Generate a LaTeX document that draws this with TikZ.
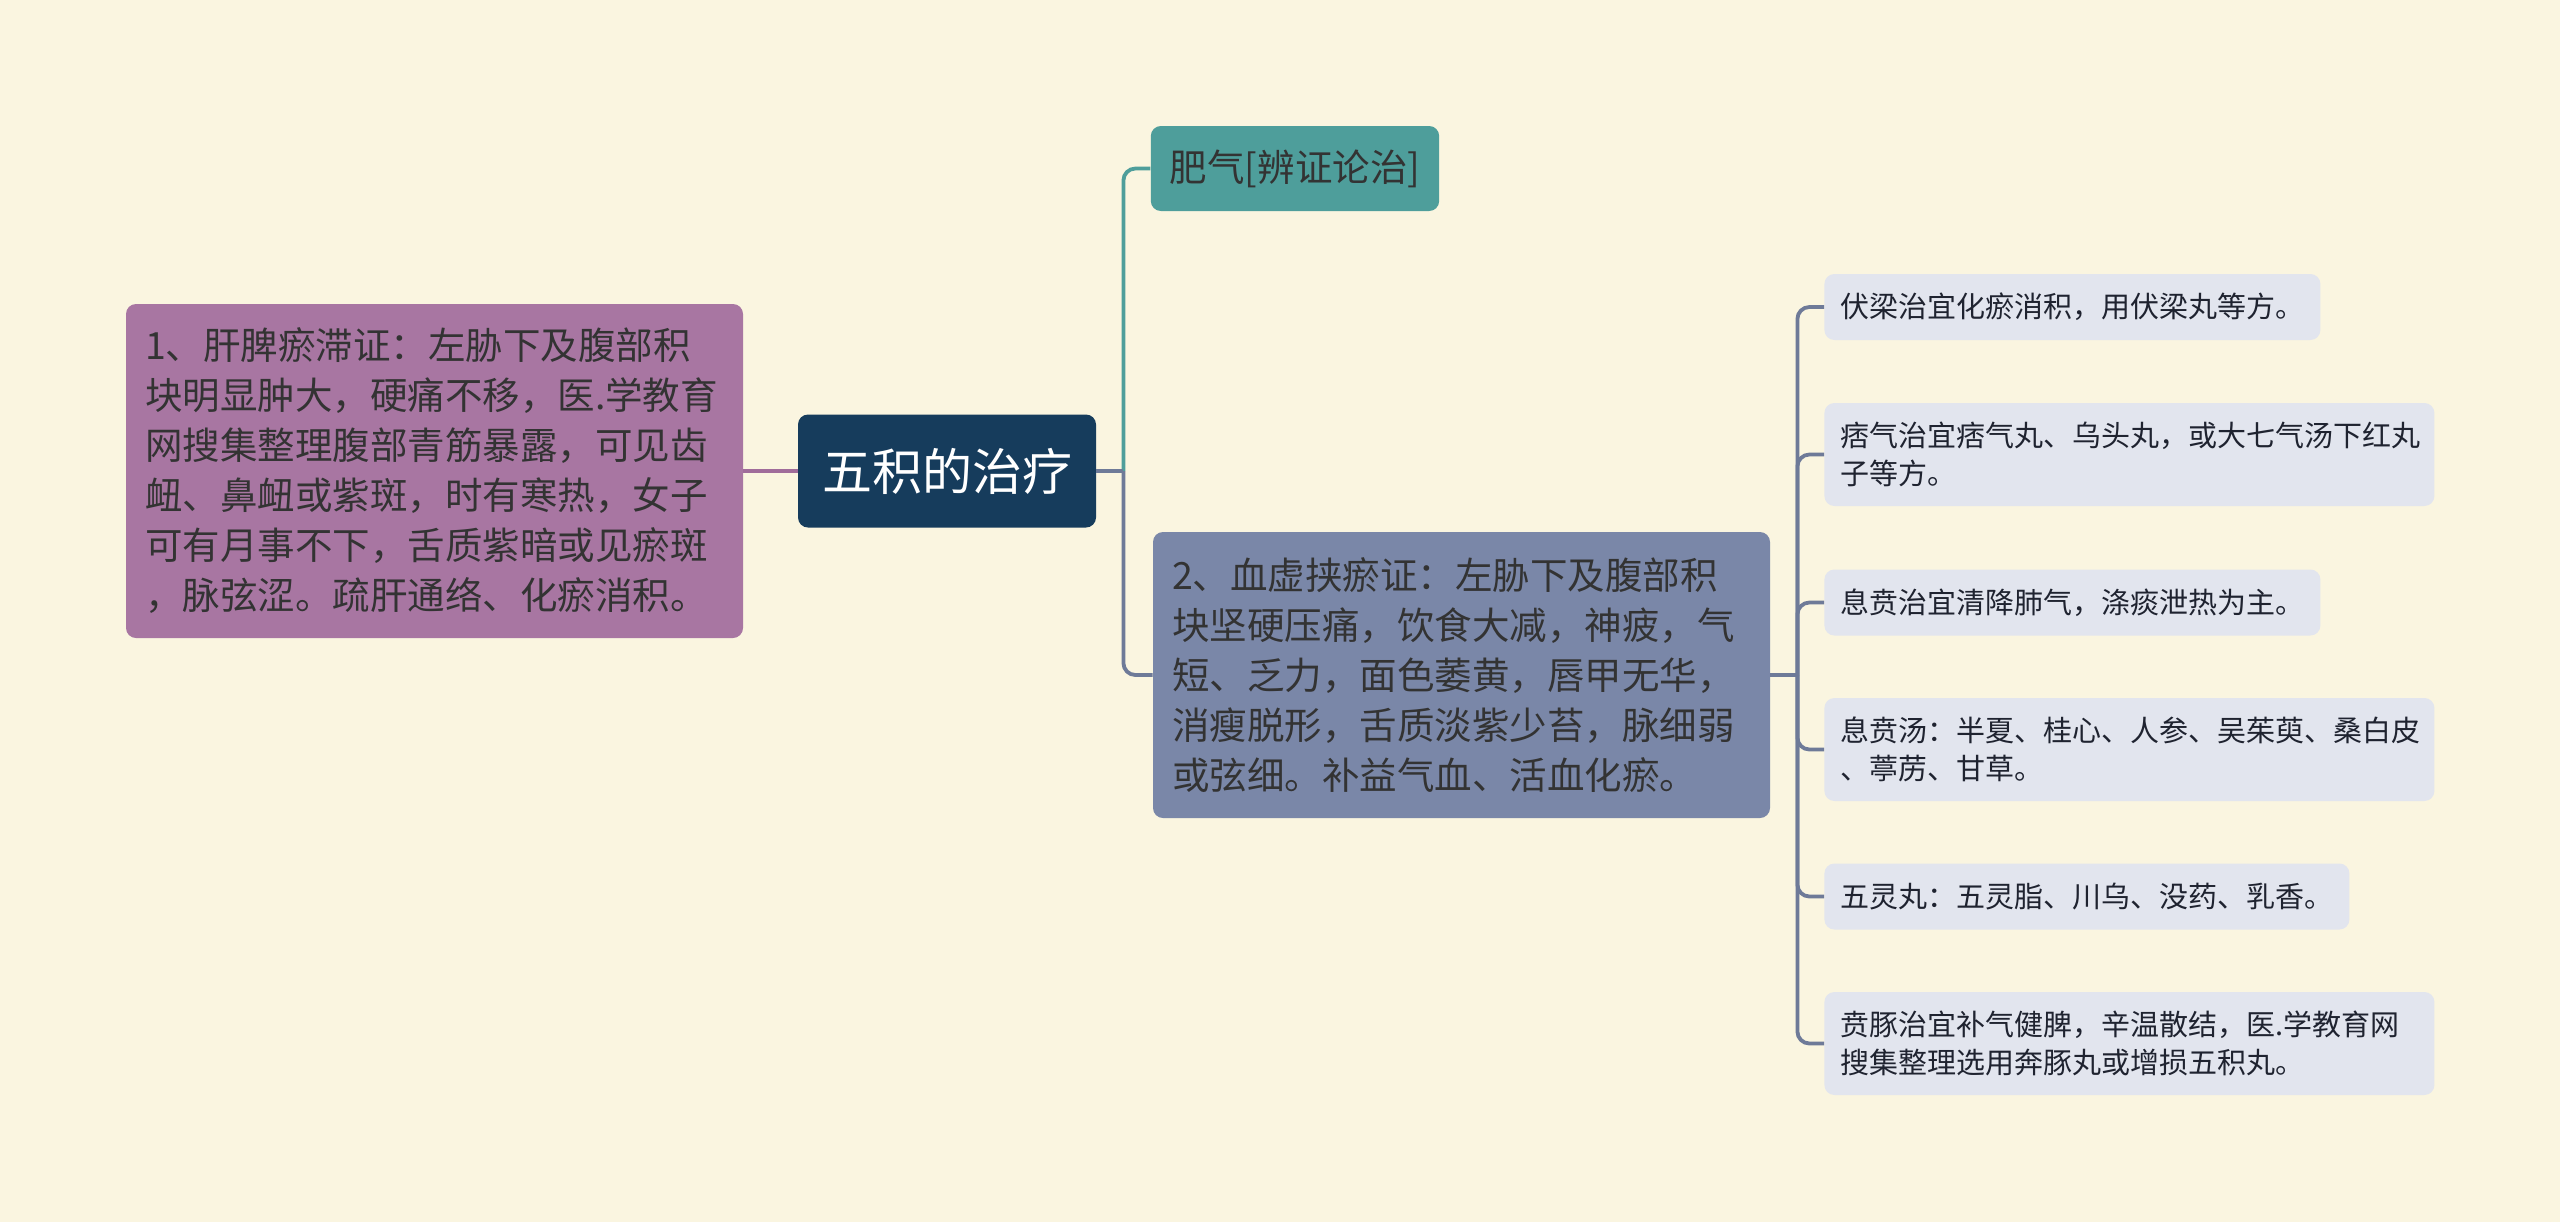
\documentclass[tikz,border=0pt]{standalone}
\usepackage{fontspec}
\newfontfamily\cjk{Noto Sans CJK SC}
\definecolor{bgcream}{HTML}{FAF5E0}
\definecolor{rootblue}{HTML}{163C5C}
\definecolor{mauve}{HTML}{A876A2}
\definecolor{feiteal}{HTML}{4E9E9B}
\definecolor{slate}{HTML}{7A87A8}
\definecolor{leafgray}{HTML}{E2E5EE}
\definecolor{inkgray}{HTML}{333333}
\definecolor{leafink}{HTML}{1F2330}
\definecolor{slatelink}{HTML}{6E7A98}
\definecolor{mauvelink}{HTML}{A06C9A}
\begin{document}
\begin{tikzpicture}[
  x=0.5pt, y=-0.5pt,
  nodebox/.style={
    rounded corners=5pt,
    align=left,
    inner sep=0pt,
    text=inkgray
  },
  rootbox/.style={nodebox, fill=rootblue, text=white, align=center,
    font=\cjk\fontsize{25}{30}\selectfont,
    minimum width=149pt, minimum height=56.5pt},
  mainbox/.style={nodebox, font=\cjk\fontsize{18.75}{25}\selectfont,
    text width=289.5pt, inner xsep=9.5pt},
  leafbox/.style={nodebox, fill=leafgray, text=leafink, anchor=west,
    font=\cjk\fontsize{14.5}{18.75}\selectfont, inner xsep=8pt},
  wideleaf/.style={leafbox, text width=289pt, minimum height=51.5pt},
  branch/.style={line width=1.9pt, rounded corners=6pt}
]
\fill[bgcream] (0,0) rectangle (2560,1222);
\useasboundingbox (0,0) rectangle (2560,1222);

\node[rootbox] (root) at (947,471) {五积的治疗};
\node[mainbox, fill=mauve, minimum height=167pt] (ganpi) at (434.5,471)
  {1、肝脾瘀滞证：左胁下及腹部积\\块明显肿大，硬痛不移，医.学教育\\网搜集整理腹部青筋暴露，可见齿\\衄、鼻衄或紫斑，时有寒热，女子\\可有月事不下，舌质紫暗或见瘀斑\\，脉弦涩。疏肝通络、化瘀消积。};
\node[nodebox, fill=feiteal, font=\cjk\fontsize{18.75}{25}\selectfont,
  inner xsep=9.5pt, minimum height=42.5pt] (feiqi) at (1295,168.5) {肥气[辨证论治]};
\node[mainbox, fill=slate, minimum height=143pt] (xuexu) at (1461.5,675)
  {2、血虚挟瘀证：左胁下及腹部积\\块坚硬压痛，饮食大减，神疲，气\\短、乏力，面色萎黄，唇甲无华，\\消瘦脱形，舌质淡紫少苔，脉细弱\\或弦细。补益气血、活血化瘀。};

\node[leafbox, minimum height=33pt] (fuliang) at (1824,307) {伏梁治宜化瘀消积，用伏梁丸等方。};
\node[wideleaf] (piqi) at (1824,454.5) {痞气治宜痞气丸、乌头丸，或大七气汤下红丸\\子等方。};
\node[leafbox, minimum height=33pt] (xiben) at (1824,602.5) {息贲治宜清降肺气，涤痰泄热为主。};
\node[wideleaf] (xibentang) at (1824,749.5) {息贲汤：半夏、桂心、人参、吴茱萸、桑白皮\\、葶苈、甘草。};
\node[leafbox, minimum height=33pt] (wuling) at (1824,896.5) {五灵丸：五灵脂、川乌、没药、乳香。};
\node[wideleaf] (bentun) at (1824,1043.5) {贲豚治宜补气健脾，辛温散结，医.学教育网\\搜集整理选用奔豚丸或增损五积丸。};

\coordinate (rootfork) at ([xshift=13.5pt]root.east);
\coordinate (xuefork) at ([xshift=13.5pt]xuexu.east);

\draw[branch, mauvelink] (root.west) -- (ganpi.east);
\draw[branch, feiteal] (rootfork) |- (feiqi.west);
\draw[branch, slatelink] (rootfork) |- (xuexu.west);
\draw[branch, slatelink] (root.east) -- (rootfork);

\draw[branch, slatelink] (xuexu.east) -- (xuefork);
\draw[branch, slatelink] (xuefork) |- (fuliang.west);
\draw[branch, slatelink] (xuefork) |- (piqi.west);
\draw[branch, slatelink] (xuefork) |- (xiben.west);
\draw[branch, slatelink] (xuefork) |- (xibentang.west);
\draw[branch, slatelink] (xuefork) |- (wuling.west);
\draw[branch, slatelink] (xuefork) |- (bentun.west);
\end{tikzpicture}
\end{document}
